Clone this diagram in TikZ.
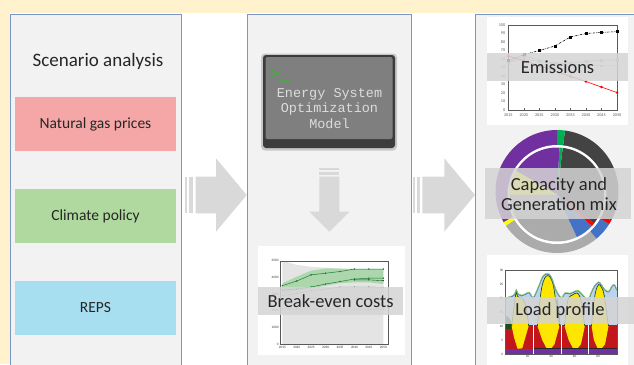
\documentclass[tikz,border=0pt]{standalone}
\usepackage{fontspec}
\setmainfont{Carlito}
\newfontfamily\monofont{Liberation Mono}
\usetikzlibrary{plotmarks}
\definecolor{cream}{HTML}{FFF2CC}
\definecolor{panelfill}{HTML}{F2F2F2}
\definecolor{panelline}{HTML}{7A96C6}
\definecolor{gaspink}{HTML}{F5A7A7}
\definecolor{climgreen}{HTML}{B0D9A0}
\definecolor{repsblue}{HTML}{A7DEF0}
\definecolor{arrowgray}{HTML}{D9D9D9}
\definecolor{txt}{HTML}{262626}
\definecolor{eomface}{HTML}{7F7F7F}
\definecolor{eomdark}{HTML}{3C3C3C}
\definecolor{eomtext}{HTML}{DCDCDC}
\definecolor{termgreen}{HTML}{3CB43C}
\definecolor{bandgray}{HTML}{D4D4D4}
\definecolor{dgray}{HTML}{434343}
\definecolor{pgreen}{HTML}{00B050}
\definecolor{ppurple}{HTML}{7030A0}
\definecolor{pyellow}{HTML}{FFFF00}
\definecolor{pgray}{HTML}{ABABAB}
\definecolor{pblue}{HTML}{4472C4}
\definecolor{pred}{HTML}{FF0000}
\definecolor{lred}{HTML}{C3161C}
\definecolor{lyellow}{HTML}{FFE600}
\definecolor{lblue}{HTML}{BCD3EE}
\definecolor{ldark}{HTML}{1B4D1B}
\definecolor{lline}{HTML}{4F81BD}
\definecolor{lgreen}{HTML}{92D050}
\definecolor{ticktxt}{HTML}{595959}
\definecolor{begray}{HTML}{E4E4E4}
\definecolor{begreen}{HTML}{9FD39F}
\definecolor{bedark}{HTML}{1E7B34}
\definecolor{lavA}{HTML}{A0A8E0}
\definecolor{lavB}{HTML}{B8BCE8}
\newcommand\wedgeat[5]{\fill[#5] (#1) -- ++(#2:#4) arc[start angle=#2, end angle=#3, radius=#4] -- cycle;}
\tikzset{
  panel/.style={fill=panelfill, draw=panelline, line width=0.9pt},
  sbox/.style={minimum width=161pt, minimum height=54pt, inner sep=0pt, font=\fontsize{15.5}{18}\selectfont, text=txt},
  blockarrow/.style={fill=arrowgray},
  band/.style={fill=bandgray, fill opacity=0.85},
  bandtext/.style={font=\fontsize{18.5}{20}\selectfont, text=txt, align=center, inner sep=0pt},
  ticklab/.style={font=\fontsize{4.2}{4.5}\selectfont, text=ticktxt, inner sep=0.6pt},
  smalllab/.style={font=\fontsize{3.4}{3.6}\selectfont, text=black!80, inner sep=0.6pt},
  frameline/.style={draw=ticktxt, line width=0.35pt},
  humptop/.style={draw=ldark, line width=0.7pt},
}
\begin{document}
\begin{tikzpicture}[x=1pt, y=-1pt]
\useasboundingbox (0,0) rectangle (634,364);
\clip (0,0) rectangle (634,364);
\fill[cream] (0,0) rectangle (634,364);
\fill[white] (9.5,12.5) rectangle (640,370);
% panels
\draw[panel] (10.5,14.5) rectangle (181,380);
\draw[panel] (247.3,14.5) rectangle (411,380);
\draw[panel] (475,14.5) rectangle (660,380);

% panel 1
\node[font=\fontsize{19}{22}\selectfont, text=txt] (title) at (98,61) {Scenario analysis};
\node[sbox, fill=gaspink] (gas) at (95.5,124) {Natural gas prices};
\node[sbox, fill=climgreen] (clim) at (95.5,216) {Climate policy};
\node[sbox, fill=repsblue] (reps) at (95.5,308) {REPS};

% block arrows
\fill[blockarrow] (185,176.7) rectangle (187,213.3);
\fill[blockarrow] (189,176.7) rectangle (193,213.3);
\fill[blockarrow] (195.5,176.7) -- (216,176.7) -- (216,158.3) -- (246.7,195) -- (216,231.7) -- (216,213.3) -- (195.5,213.3) -- cycle;
\fill[blockarrow] (413.3,176.7) rectangle (415,213.3);
\fill[blockarrow] (416.7,176.7) rectangle (420,213.3);
\fill[blockarrow] (422.3,176.7) -- (444.3,176.7) -- (444.3,158.3) -- (475,195) -- (444.3,231.7) -- (444.3,213.3) -- (422.3,213.3) -- cycle;
\fill[blockarrow] (319.3,168.3) rectangle (339.3,170);
\fill[blockarrow] (319.3,171.7) rectangle (339.3,175);
\fill[blockarrow] (319.3,176.5) -- (339.3,176.5) -- (339.3,211.7) -- (349.3,211.7) -- (329.3,231.7) -- (309.3,211.7) -- (319.3,211.7) -- cycle;

% EOM box
\fill[black!22, rounded corners=4pt] (261,53.5) rectangle (397,150.5);
\fill[eomdark, rounded corners=3pt] (263,55) rectangle (395,148);
\fill[eomface, rounded corners=2pt] (265.5,57) rectangle (392.5,139);
\node[font=\monofont\fontsize{17}{17}\selectfont, text=termgreen, anchor=base west, inner sep=0pt] (prompt) at (269.5,79) {>\_};
\node[font=\monofont\fontsize{13.5}{15.5}\selectfont, text=eomtext, align=center, inner sep=0pt] (eom) at (329.5,108.5) {Energy System\\Optimization\\Model};

% Break-even chart
\fill[white] (258,246) rectangle (405,355);
\begin{scope}[shift={(282.3,344)}, x=14.43pt, y=16.66pt]
  \fill[begray] (0,0) -- (0,5) -- (1,4.75) -- (2,4.63) -- (3,4.58) -- (4,4.53) -- (5,4.5) -- (6,4.5) -- (7,4.5) -- (7,0) -- cycle;
  \fill[begreen, opacity=0.8] (0,3.64) -- (1,4.04) -- (2,4.40) -- (3,4.54) -- (4,4.52) -- (5,4.5) -- (6,4.5) -- (7,4.5) -- (7,3.6) -- (6,3.7) -- (5,3.7) -- (4,3.65) -- (3,3.5) -- (2,3.35) -- (1,3.2) -- (0,3.05) -- cycle;
  \draw[black!45, line width=0.4pt, mark=*, mark size=0.4pt] plot coordinates {(0,2.1) (1,2.1) (2,2.1) (3,2.1) (4,2.1) (5,2.1) (6,2.08) (7,2.1)};
  \draw[lavA, line width=0.4pt] plot coordinates {(0,2.7) (1,2.72) (2,2.72) (3,2.74) (4,2.74) (5,2.75) (6,2.75) (7,2.75)};
  \draw[begreen!70!black, line width=0.4pt, mark=*, mark size=0.4pt] plot coordinates {(0,2.9) (1,3.05) (2,3.2) (3,3.3) (4,3.42) (5,3.42) (6,3.42) (7,3.4)};
  \draw[bedark, line width=0.5pt, mark=*, mark size=0.45pt] plot coordinates {(0,3.25) (1,3.3) (2,3.42) (3,3.6) (4,3.75) (5,3.9) (6,3.95) (7,3.95)};
  \draw[bedark!70!black, line width=0.4pt, mark=*, mark size=0.4pt] plot coordinates {(5,3.85) (6,3.85) (7,3.8)};
  \draw[bedark, line width=0.5pt, mark=*, mark size=0.45pt] plot coordinates {(0,3.5) (1,3.78) (2,4.15) (3,4.25) (4,4.35) (5,4.5) (6,4.5) (7,4.5)};
  \draw[frameline] (-0.16,0) rectangle (7.37,5);
  \foreach \v/\t in {0/0,1/1000,2/2000,3/3000,4/4000,5/5000} \node[smalllab, anchor=east] at (-0.2,\v) {\t};
  \foreach \i/\yr in {0/2015,1/2020,2/2025,3/2030,4/2035,5/2040,6/2045,7/2050} \node[smalllab, anchor=north] at (\i,-0.08) {\yr};
\end{scope}
\fill[band] (258,287) rectangle (403,315);
\node[bandtext] (bec) at (330.5,301.5) {Break-even costs};

% Emissions chart
\fill[white] (487,17) rectangle (628,125);
\begin{scope}[shift={(508.3,110)}, x=15.53pt, y=0.85pt]
  \draw[frameline] (0,0) rectangle (7,100);
  \foreach \i in {1,...,6} \draw[ticktxt, line width=0.3pt] (\i,0) -- (\i,2);
  \foreach \v in {0,10,...,100} \node[ticklab, anchor=east] at (-0.15,\v) {\v};
  \foreach \i/\yr in {0/2015,1/2020,2/2025,3/2030,4/2035,5/2040,6/2045,7/2050} \node[ticklab, anchor=north] at (\i,-3) {\yr};
  \draw[lavB, line width=0.5pt, mark=square*, mark size=0.9pt] plot coordinates {(0,56) (1,60) (2,57) (3,54) (4,53) (5,53) (6,52) (7,52)};
  \draw[lavA, line width=0.5pt, mark=square*, mark size=0.9pt] plot coordinates {(0,56) (1,63.5) (2,59) (3,55) (4,55) (5,57) (6,59) (7,59)};
  \draw[pred, line width=0.6pt, mark=*, mark size=0.9pt] plot coordinates {(0,63.5) (1,58) (2,52) (3,46) (4,39.5) (5,33.5) (6,27) (7,20.5)};
  \draw[black, line width=0.6pt, dash pattern=on 2pt off 1pt on 0.5pt off 1pt, mark=square*, mark size=1pt, mark options={solid}] plot coordinates {(0,58) (1,65) (2,70) (3,75.3) (4,86) (5,90) (6,91.3) (7,92.2)};
\end{scope}
\fill[band] (487,53) rectangle (628,81);
\node[bandtext] (emis) at (557.5,67.5) {Emissions};

% Donut chart
\coordinate (dc) at (557,191.5);
\coordinate (ic) at (557,194.5);
\wedgeat{dc}{-28}{82.5}{61.5pt}{dgray}
\wedgeat{dc}{82.5}{90}{61.5pt}{pgreen}
\wedgeat{dc}{90}{210}{61.5pt}{ppurple}
\wedgeat{dc}{210}{214}{61.5pt}{pyellow}
\wedgeat{dc}{214}{310}{61.5pt}{pgray}
\wedgeat{dc}{310}{328}{61.5pt}{pblue}
\wedgeat{dc}{328}{332}{61.5pt}{pred}
\fill[white] (ic) circle[radius=49.5pt];
\wedgeat{ic}{-38}{83}{47pt}{dgray}
\wedgeat{ic}{83}{87}{47pt}{pgreen}
\wedgeat{ic}{87}{150}{47pt}{ppurple}
\wedgeat{ic}{150}{180}{47pt}{pyellow}
\wedgeat{ic}{180}{295}{47pt}{pgray}
\wedgeat{ic}{295}{318}{47pt}{pblue}
\wedgeat{ic}{318}{322}{47pt}{pred}
\fill[band] (485,168) rectangle (631,219);
\node[bandtext] (mix) at (559,194) {Capacity and\\Generation mix};

% Load profile chart
\fill[white] (487,255) rectangle (628,370);
\begin{scope}[shift={(504,354)}, x=1.175pt, y=2.8pt]
  \fill[lblue] (1,0) -- plot[smooth, tension=0.55] coordinates {(1,19.8) (4,20.2) (7,20.6) (9,21.2) (10.5,22.8) (12,21.3) (15,20.8) (18,21.3) (21.5,21.9) (24.5,20) (27,21.6) (30,24.6) (33,27.6) (36,28.6) (38.5,28.4) (41,26.6) (43.5,23.5) (46,21.4) (49,20) (52,21.7) (56,21.5) (59,22) (63,22.6) (67,21) (71.5,19.2) (74,21.6) (77,24.2) (80.5,25.6) (83,24.6) (85.5,23) (89,22.2) (92,24.2) (94,24.6) (96,22.8)} -- (96,0) -- cycle;
  \fill[lred] (1,1.5) rectangle (96,10.2);
  \fill[ldark] (1,9) -- (1,13) -- (3,13.5) -- (5.5,12.2) -- (6.8,10) -- (6,9) -- cycle;
  % hump 1
  \fill[lyellow] (6.5,10) -- plot[smooth, tension=0.6] coordinates {(6.5,10) (8,15) (9.5,20) (10.5,22) (11.5,20.6) (13.5,20) (16,19.8) (18.5,17) (20.5,12) (21,10)} -- (15.5,2) -- (11.5,1.9) -- (8.5,6) -- cycle;
  \draw[humptop] plot[smooth, tension=0.6] coordinates {(6.5,10) (8,15) (9.5,20) (10.5,22) (11.5,20.6) (13.5,20) (16,19.8) (18.5,17) (20.5,12) (21,10)};
  % hump 2
  \fill[lyellow] (28.5,10) -- plot[smooth, tension=0.6] coordinates {(28.5,10) (30,17) (32,23.5) (34.5,27) (37,28) (39.5,27.3) (42,24.5) (44,19) (46,13) (47.2,10)} -- (43,3.5) -- (40.5,2.2) -- (36,2.2) -- (32.5,5) -- cycle;
  \draw[humptop] plot[smooth, tension=0.6] coordinates {(28.5,10) (30,17) (32,23.5) (34.5,27) (37,28) (39.5,27.3) (42,24.5) (44,19) (46,13) (47.2,10)};
  \fill[ldark] (44,19) -- (46,13) -- (47.2,10) -- (48,10) -- (47.5,15) -- (45.5,20) -- cycle;
  % hump 3
  \fill[lyellow] (51.5,10) -- plot[smooth, tension=0.6] coordinates {(51.5,10) (53,16) (55,20) (58,21) (62,21.8) (64.5,20.5) (66.5,17) (68,12) (68.8,10)} -- (65.5,3.5) -- (63,2.2) -- (58.5,2.2) -- (55,5) -- cycle;
  \draw[humptop] plot[smooth, tension=0.6] coordinates {(51.5,10) (53,16) (55,20) (58,21) (62,21.8) (64.5,20.5) (66.5,17) (68,12) (68.8,10)};
  % hump 4
  \fill[lyellow] (74.5,10) -- plot[smooth, tension=0.6] coordinates {(74.5,10) (76,17) (78,22.3) (80.5,24.8) (83,23.8) (85,21.5) (87,16) (88.5,11) (89,10)} -- (86,3.5) -- (83.5,2.2) -- (79.5,2.2) -- (76.5,5) -- cycle;
  \draw[humptop] plot[smooth, tension=0.6] coordinates {(74.5,10) (76,17) (78,22.3) (80.5,24.8) (83,23.8) (85,21.5) (87,16) (88.5,11) (89,10)};
  \draw[black!85, line width=0.6pt] (25,2.2) -- (96,2.2);
  \fill[ppurple] (1,0) rectangle (96,1.9);
  \foreach \xx in {25,49,72} \draw[white, line width=0.8pt] (\xx,0) -- (\xx,10.3);
  \draw[lline, line width=1.1pt] plot[smooth, tension=0.55] coordinates {(1,19.8) (4,20.2) (7,20.6) (9,21.2) (10.5,22.8) (12,21.3) (15,20.8) (18,21.3) (21.5,21.9) (24.5,20) (27,21.6) (30,24.6) (33,27.6) (36,28.6) (38.5,28.4) (41,26.6) (43.5,23.5) (46,21.4) (49,20) (52,21.7) (56,21.5) (59,22) (63,22.6) (67,21) (71.5,19.2) (74,21.6) (77,24.2) (80.5,25.6) (83,24.6) (85.5,23) (89,22.2) (92,24.2) (94,24.6) (96,22.8)};
  \draw[lgreen, line width=0.5pt, yshift=0.6pt] plot[smooth, tension=0.55] coordinates {(1,19.8) (4,20.2) (7,20.6) (9,21.2) (10.5,22.8) (12,21.3) (15,20.8) (18,21.3) (21.5,21.9) (24.5,20) (27,21.6) (30,24.6) (33,27.6) (36,28.6) (38.5,28.4) (41,26.6) (43.5,23.5) (46,21.4) (49,20) (52,21.7) (56,21.5) (59,22) (63,22.6) (67,21) (71.5,19.2) (74,21.6) (77,24.2) (80.5,25.6) (83,24.6) (85.5,23) (89,22.2) (92,24.2) (94,24.6) (96,22.8)};
  \draw[frameline] (1,0) rectangle (96,30);
  \foreach \v in {0,5,...,30} \node[smalllab, anchor=east] at (0,\v) {\v};
  \foreach \xx in {20,40,60,80} \node[smalllab, anchor=north] at (\xx,-0.3) {\xx};
\end{scope}
\fill[band] (487,297) rectangle (640,324);
\node[bandtext] (load) at (560,310.5) {Load profile};
\end{tikzpicture}
\end{document}
